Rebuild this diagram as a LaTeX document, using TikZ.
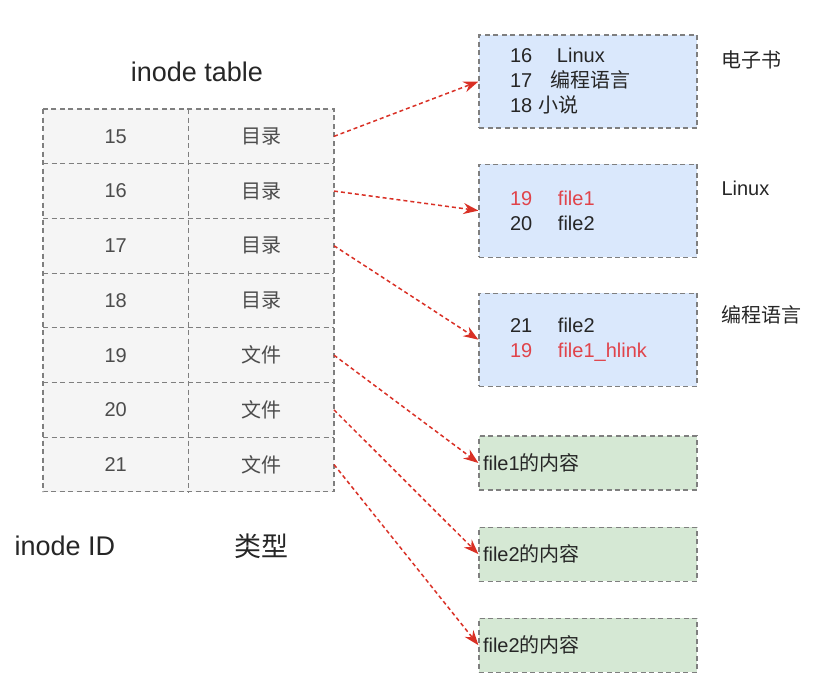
\documentclass[tikz,border=0pt]{standalone}
\usepackage{fontspec}
\setmainfont{Liberation Sans}
\newfontfamily\cjk{Noto Sans CJK SC}
\usetikzlibrary{positioning,arrows.meta}
\definecolor{cellfill}{HTML}{F5F5F5}
\definecolor{dirfill}{HTML}{DAE8FC}
\definecolor{datafill}{HTML}{D5E8D4}
\definecolor{edgegray}{HTML}{7F7F7F}
\definecolor{linkred}{HTML}{D93025}
\definecolor{textred}{HTML}{E0434A}
\tikzset{
  cell/.style={fill=cellfill,
    minimum width=145.5pt, minimum height=54.7pt,
    inner sep=0pt, outer sep=0pt,
    font=\fontsize{20}{24}\selectfont, text=black!70},
  grid/.style={draw=edgegray, line width=1.1pt, dash pattern=on 5pt off 3.5pt},
  dirbox/.style={draw=edgegray, fill=dirfill, line width=1.1pt,
    dash pattern=on 5pt off 3.5pt,
    text width=156pt, inner xsep=31pt, inner ysep=0pt,
    minimum height=93pt, align=left,
    font=\fontsize{20}{25}\selectfont, text=black!85},
  databox/.style={draw=edgegray, fill=datafill, line width=1.1pt,
    dash pattern=on 5pt off 3.5pt,
    text width=210pt, inner xsep=4pt, inner ysep=0pt,
    minimum height=54pt, align=left,
    font=\fontsize{20}{24}\selectfont, text=black!85},
  caption/.style={font=\fontsize{27}{30}\selectfont, text=black!85},
  dirname/.style={anchor=west, font=\fontsize{20}{24}\selectfont, text=black!85},
  link/.style={draw=linkred, line width=1.5pt, dash pattern=on 4pt off 3pt,
    -{Stealth[length=15pt,width=11pt]}}
}
\begin{document}
\begin{tikzpicture}[x=1pt,y=-1pt]
\useasboundingbox (0,0) rectangle (823,686);

% inode table
\foreach \id/\kind [count=\r from 0] in
  {15/目录,16/目录,17/目录,18/目录,19/文件,20/文件,21/文件}{
  \node[cell] (id\id) at (115.75,136.35+54.7*\r) {\id};
  \node[cell, right=0pt of id\id] (ty\id) {\cjk\kind};
}
\foreach \id in {16,...,21}
  \draw[grid] (id\id.north west) -- (ty\id.north east);
\draw[grid] (id15.north west) rectangle (ty21.south east);
\draw[grid] (id15.north east) -- (id21.south east);

\node[caption] (tabletitle) at (197,72) {inode table};
\node[caption] (idcap) at (65,546) {inode ID};
\node[caption] (kindcap) at (261,546) {\cjk 类型};

% directory blocks
\node[dirbox] (ebook) at (588,81.5)
  {\makebox[47pt][l]{16}Linux\\
   \makebox[40pt][l]{17}{\cjk 编程语言}\\
   18 {\cjk 小说}};
\node[dirbox, below=35pt of ebook] (linuxdir)
  {\textcolor{textred}{\makebox[48pt][l]{19}file1}\\
   \makebox[48pt][l]{20}file2};
\node[dirbox, below=35pt of linuxdir] (langdir)
  {\makebox[48pt][l]{21}file2\\
   \textcolor{textred}{\makebox[48pt][l]{19}file1\_hlink}};

\node[dirname] (ebookname) at (718,60) {\cjk 电子书};
\node[dirname] (linuxname) at (718,188) {Linux};
\node[dirname] (langname) at (718,315) {\cjk 编程语言};

% file data blocks
\node[databox] (data19) at (588,463) {file1{\cjk 的内容}};
\node[databox, below=36pt of data19] (data20) {file2{\cjk 的内容}};
\node[databox, below=36pt of data20] (data21) {file2{\cjk 的内容}};

% links
\draw[link] (ty15.east) -- (ebook.west);
\draw[link] (ty16.east) -- (linuxdir.west);
\draw[link] (ty17.east) -- (langdir.west);
\draw[link] (ty19.east) -- (data19.west);
\draw[link] (ty20.east) -- (data20.west);
\draw[link] (ty21.east) -- (data21.west);

\end{tikzpicture}
\end{document}
